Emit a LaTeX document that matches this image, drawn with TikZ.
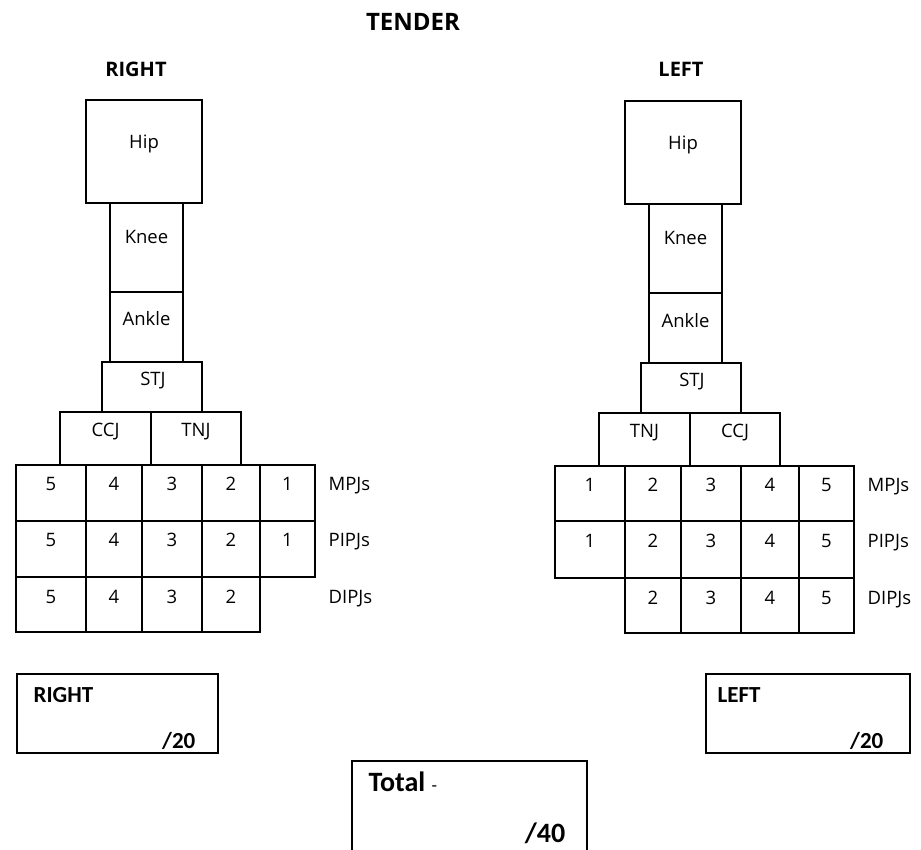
\documentclass[tikz,border=0pt]{standalone}
\usepackage{fontspec}
\setmainfont{Open Sans}
\newfontfamily\calib{Carlito}
\usetikzlibrary{positioning}

\begin{document}
\begin{tikzpicture}[x=1pt,y=-1pt,line width=1.3pt,
	joint/.style={font=\fontsize{18.5}{22}\selectfont,inner sep=0pt,anchor=base},
	rowlabel/.style={font=\fontsize{18.5}{22}\selectfont,inner sep=0pt,anchor=base west},
	heading/.style={font=\fontsize{20}{24}\selectfont\bfseries,inner sep=0pt,anchor=base},
	score/.style={font=\calib\fontsize{23}{27}\selectfont\bfseries,inner sep=0pt}]
	\useasboundingbox (0,0) rectangle (921,850);
	\node[heading,font=\fontsize{24}{28}\selectfont\bfseries] (title) at (413,31) {TENDER};
	\node[heading] (rightleg) at (136,77) {RIGHT};
	\node[heading] (leftleg) at (681,77) {LEFT};
	% right leg
	\draw (86,100) rectangle (202,203);
	\node[joint] (hipR) at (144,149) {Hip};
	\draw (110,203) rectangle (183,292);
	\node[joint] (kneeR) at (146.5,244) {Knee};
	\draw (110,292) rectangle (183,362);
	\node[joint] (ankleR) at (146.5,326) {Ankle};
	\draw (102,362) rectangle (202,412);
	\node[joint] (stjR) at (153,385) {STJ};
	\draw (60,412) rectangle (151,465) (151,412) rectangle (241,465);
	\node[joint] (ccjR) at (105.5,436) {CCJ};
	\node[joint] (tnjR) at (196,436) {TNJ};
	\foreach \xa/\xb/\n in {16/86/5,86/142/4,142/202/3,202/260/2,260/315/1} {
		\draw (\xa,465) rectangle (\xb,521) (\xa,521) rectangle (\xb,577);
		\node[joint] (mpR\n) at ({(\xa+\xb)/2},490) {\n};
		\node[joint] (pipR\n) at ({(\xa+\xb)/2},546) {\n};
	}
	\foreach \xa/\xb/\n in {16/86/5,86/142/4,142/202/3,202/260/2} {
		\draw (\xa,577) rectangle (\xb,632);
		\node[joint] (dipR\n) at ({(\xa+\xb)/2},603) {\n};
	}
	\node[rowlabel] (mpjR) at (328,490) {MPJs};
	\node[rowlabel] (pipjR) at (328,546) {PIPJs};
	\node[rowlabel] (dipjR) at (328,603) {DIPJs};
	% left leg
	\begin{scope}[xshift=539pt]
		\draw (86,101) rectangle (202,204);
		\node[joint] (hipL) at (144,150) {Hip};
		\draw (110,204) rectangle (183,293);
		\node[joint] (kneeL) at (146.5,245) {Knee};
		\draw (110,293) rectangle (183,363);
		\node[joint] (ankleL) at (146.5,327) {Ankle};
		\draw (102,363) rectangle (202,413);
		\node[joint] (stjL) at (153,386) {STJ};
		\draw (60,413) rectangle (151,466) (151,413) rectangle (241,466);
		\node[joint] (tnjL) at (105.5,437) {TNJ};
		\node[joint] (ccjL) at (196,437) {CCJ};
		\foreach \xa/\xb/\n in {16/86/1,86/142/2,142/202/3,202/260/4,260/315/5} {
			\draw (\xa,466) rectangle (\xb,521) (\xa,521) rectangle (\xb,578);
			\node[joint] (mpL\n) at ({(\xa+\xb)/2},491) {\n};
			\node[joint] (pipL\n) at ({(\xa+\xb)/2},547) {\n};
		}
		\foreach \xa/\xb/\n in {86/142/2,142/202/3,202/260/4,260/315/5} {
			\draw (\xa,578) rectangle (\xb,633);
			\node[joint] (dipL\n) at ({(\xa+\xb)/2},604) {\n};
		}
		\node[rowlabel] (mpjL) at (328,491) {MPJs};
		\node[rowlabel] (pipjL) at (328,547) {PIPJs};
		\node[rowlabel] (dipjL) at (328,604) {DIPJs};
	\end{scope}
	% scores
	\draw (17,674) rectangle (218,753);
	\node[score,anchor=base west] (rightname) at (33,702) {RIGHT};
	\node[score,anchor=base east] (rightscore) at (196,748) {/20};
	\draw (706,674) rectangle (910,753);
	\node[score,anchor=base west] (leftname) at (717,702) {LEFT};
	\node[score,anchor=base east] (leftscore) at (884,748) {/20};
	\draw (352,850) -- (352,761) -- (587,761) -- (587,850);
	\node[score,anchor=base west,font=\calib\fontsize{28}{32}\selectfont] (totalname) at (368,791) {\textbf{Total} {\fontsize{18}{20}\selectfont -}};
	\node[score,anchor=base east,font=\calib\fontsize{28}{32}\selectfont\bfseries] (totalscore) at (566,842) {/40};
\end{tikzpicture}
\end{document}
